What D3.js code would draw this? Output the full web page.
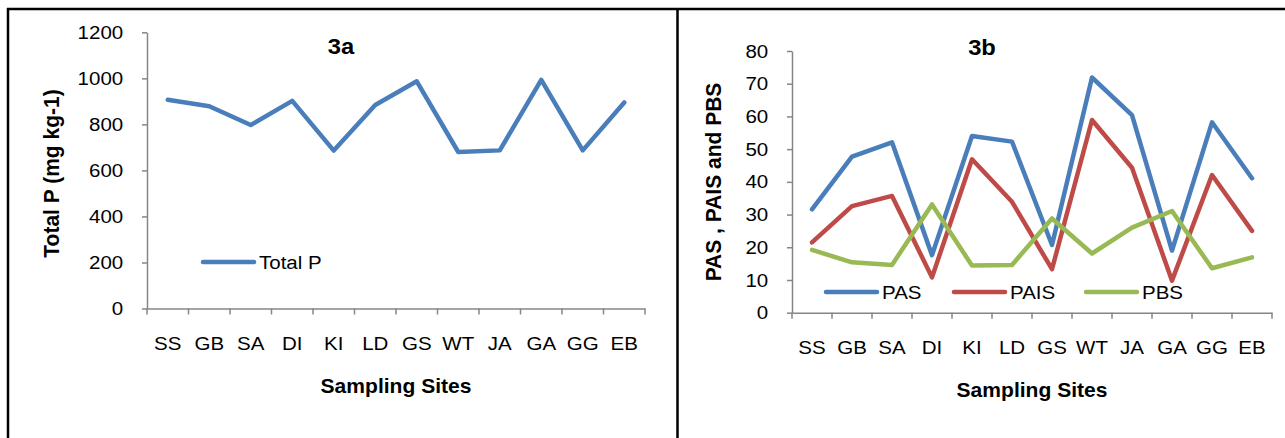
<!DOCTYPE html>
<html>
<head>
<meta charset="utf-8">
<script src="https://cdn.jsdelivr.net/npm/d3@7"></script>
<style>
  body { margin: 0; background: #fff; }
  svg { display: block; font-family: "Liberation Sans", Arial, sans-serif; }
</style>
</head>
<body>
<script>
var sites = ["SS", "GB", "SA", "DI", "KI", "LD", "GS", "WT", "JA", "GA", "GG", "EB"]
var totalP = [907, 879, 797, 902, 686, 884, 987, 680, 687, 993, 687, 895]
var pas = [31.6, 47.7, 52.1, 17.6, 54.0, 52.3, 20.7, 71.9, 60.4, 19.0, 58.2, 41.1]
var pais = [21.5, 32.6, 35.7, 10.8, 46.9, 33.9, 13.3, 58.9, 44.3, 9.8, 42.1, 25.0]
var pbs = [19.2, 15.4, 14.6, 33.1, 14.4, 14.6, 28.8, 18.1, 26.0, 31.1, 13.6, 16.9]
var ticksA = [0, 200, 400, 600, 800, 1000, 1200]
var ticksB = [0, 10, 20, 30, 40, 50, 60, 70, 80]

var width = 1285, height = 438
var SX = 1.08 // picture is a little wider than tall
var axisColor = "#868686"

var svg = d3.select("body").append("svg")
    .attr("width", width)
    .attr("height", height)

// panel borders
svg.append("line").attr("x1", 7).attr("x2", width).attr("y1", 9).attr("y2", 9)
    .attr("stroke", "#000").attr("stroke-width", 2.5)
svg.append("line").attr("x1", 8).attr("x2", 8).attr("y1", 8).attr("y2", height)
    .attr("stroke", "#000").attr("stroke-width", 2.5)
svg.append("line").attr("x1", 677.5).attr("x2", 677.5).attr("y1", 8).attr("y2", height)
    .attr("stroke", "#000").attr("stroke-width", 2.5)

function label(g, txt, x, y, size, bold, anchor, rot) {
    return g.append("text")
        .attr("transform", "translate(" + x + "," + y + ") scale(" + SX + ",1)" + (rot ? " rotate(-90)" : ""))
        .attr("text-anchor", anchor || "start")
        .attr("font-size", size)
        .attr("font-weight", bold ? "bold" : "normal")
        .attr("fill", "#000")
        .text(txt)
}

function panel(o) {
    var g = svg.append("g")
    var x = d3.scaleBand().domain(sites).range([o.x0, o.x1]).paddingInner(0).paddingOuter(0)
    var y = d3.scaleLinear().domain([0, o.ymax]).range([o.y0, o.y1])

    // y axis
    var ya = g.append("g")
        .attr("transform", "translate(" + o.x0 + ",0)")
        .call(d3.axisLeft(y).tickValues(o.ticks).tickFormat(d3.format("d"))
            .tickSizeInner(5).tickSizeOuter(0).tickPadding(17))
    ya.select(".domain").attr("stroke", axisColor).attr("stroke-width", 1.5)
    ya.selectAll(".tick line").attr("stroke", axisColor).attr("stroke-width", 1.5)
    ya.selectAll(".tick text")
        .attr("font-size", 19).attr("font-family", null).attr("fill", "#000")
        .attr("transform", "scale(" + SX + ",1)")

    // x axis, labels centred in each band
    var xa = g.append("g")
        .attr("transform", "translate(0," + o.y0 + ")")
        .call(d3.axisBottom(x).tickSizeInner(0).tickSizeOuter(0).tickPadding(o.labPad))
    xa.select(".domain").attr("stroke", axisColor).attr("stroke-width", 1.5)
    xa.selectAll(".tick text")
        .attr("font-size", 19).attr("font-family", null).attr("fill", "#000")
        .attr("transform", "scale(" + SX + ",1)")
    // boundary tick marks between categories
    var bounds = d3.range(sites.length + 1).map(function (i) { return o.x0 + i * x.step() })
    g.selectAll(".bt").data(bounds).enter().append("line")
        .attr("x1", function (d) { return d }).attr("x2", function (d) { return d })
        .attr("y1", o.y0).attr("y2", o.y0 + 6)
        .attr("stroke", axisColor).attr("stroke-width", 1.5)

    var line = d3.line()
        .x(function (d, i) { return x(sites[i]) + x.bandwidth() / 2 })
        .y(function (d) { return y(d) })

    o.series.forEach(function (s) {
        g.append("path")
            .attr("d", line(s.values))
            .attr("fill", "none")
            .attr("stroke", s.color)
            .attr("stroke-width", 4.5)
            .attr("stroke-linejoin", "round")
            .attr("stroke-linecap", "round")
        g.append("line")
            .attr("x1", s.lx).attr("x2", s.lx + 51)
            .attr("y1", o.legY).attr("y2", o.legY)
            .attr("stroke", s.color).attr("stroke-width", 4.5).attr("stroke-linecap", "round")
        label(g, s.name, s.lx + 56, o.legY + 7, 19, false, "start")
    })

    label(g, o.title, o.titleX, o.titleY, 22, true, "middle")
    label(g, "Sampling Sites", o.xtX, o.xtY, 19.5, true, "middle")
    label(g, o.ytitle, o.ytX, o.ytY, 21, true, "middle", true)
}

panel({
    x0: 147, x1: 645, y0: 308.5, y1: 32.3, ymax: 1200, ticks: ticksA, labPad: 28,
    legY: 262,
    series: [{ name: "Total P", values: totalP, color: "#4A7EBB", lx: 203 }],
    title: "3a", titleX: 341, titleY: 54,
    xtX: 396, xtY: 393,
    ytitle: "Total P (mg kg-1)", ytX: 59, ytY: 173.5
})

panel({
    x0: 792, x1: 1272, y0: 312.7, y1: 51, ymax: 80, ticks: ticksB, labPad: 28,
    legY: 292,
    series: [
        { name: "PAS", values: pas, color: "#4A7EBB", lx: 826 },
        { name: "PAIS", values: pais, color: "#BE4B48", lx: 954 },
        { name: "PBS", values: pbs, color: "#98B954", lx: 1086 }
    ],
    title: "3b", titleX: 982, titleY: 55,
    xtX: 1032, xtY: 397,
    ytitle: "PAS , PAIS and PBS", ytX: 721, ytY: 182
})
</script>
</body>
</html>
